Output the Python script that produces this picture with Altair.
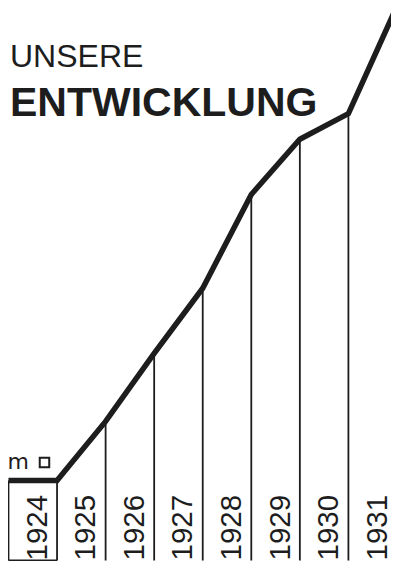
import altair as alt
import pandas as pd

# ---- data ----
years = [1924, 1925, 1926, 1927, 1928, 1929, 1930, 1931]
start_value = 81                      # level at the start of 1924
end_values = [81, 141, 210, 276, 371, 427, 453, 562]   # level at end of each year
title_top = "UNSERE"
title_main = "ENTWICKLUNG"
unit_m = "m"
year_labels = [str(y) for y in years]

INK = "#1d1d1d"

bounds = [years[0]] + [y + 1 for y in years]
vals = [start_value] + end_values
line_df = pd.DataFrame({"pos": bounds, "value": vals, "zero": [0] * len(bounds)})
label_df = pd.DataFrame({"mid": [y + 0.5 for y in years], "label": year_labels, "zero": [0] * len(years)})
base_df = pd.DataFrame({"x1": [years[0]], "x2": [years[0] + 1], "zero": [0]})
unit_df = pd.DataFrame({"pos": [years[0]], "value": [start_value], "t": [unit_m]})
title_df = pd.DataFrame({"a": [title_top], "b": [title_main]})

xs = alt.Scale(domain=[1923.990, 1931.877], nice=False, zero=False)
ys = alt.Scale(domain=[-0.5, 560], nice=False, zero=False)

line = alt.Chart(line_df).mark_line(
    color=INK, strokeWidth=5.5, clip=True, strokeCap="butt", strokeJoin="miter"
).encode(
    x=alt.X("pos:Q", scale=xs, axis=None),
    y=alt.Y("value:Q", scale=ys, axis=None),
)

verticals = alt.Chart(line_df).mark_rule(color=INK, strokeWidth=1.8, clip=True).encode(
    x=alt.X("pos:Q", scale=xs, axis=None),
    y=alt.Y("value:Q", scale=ys, axis=None),
    y2="zero:Q",
)

base = alt.Chart(base_df).mark_rule(color=INK, strokeWidth=1.8).encode(
    x=alt.X("x1:Q", scale=xs, axis=None),
    x2="x2:Q",
    y=alt.Y("zero:Q", scale=ys, axis=None),
)

labels = alt.Chart(label_df).mark_text(
    angle=270, align="left", baseline="middle", font="Liberation Sans",
    fontSize=29.5, color=INK, dx=0, dy=5,
).encode(
    x=alt.X("mid:Q", scale=xs, axis=None),
    y=alt.Y("zero:Q", scale=ys, axis=None),
    text="label:N",
)

unit_text = alt.Chart(unit_df).mark_text(
    align="left", baseline="alphabetic", font="DejaVu Sans", fontSize=22,
    color=INK, dx=-1, dy=-12,
).encode(
    x=alt.X("pos:Q", scale=xs, axis=None),
    y=alt.Y("value:Q", scale=ys, axis=None),
    text="t:N",
)

unit_square = alt.Chart(unit_df).mark_point(
    shape="square", filled=False, size=90, strokeWidth=2, color=INK, opacity=1,
    xOffset=36, yOffset=-18,
).encode(
    x=alt.X("pos:Q", scale=xs, axis=None),
    y=alt.Y("value:Q", scale=ys, axis=None),
)

t1 = alt.Chart(title_df).mark_text(
    align="left", baseline="alphabetic", font="Liberation Sans", fontSize=32,
    color=INK,
).encode(x=alt.value(2), y=alt.value(59), text="a:N")

t2 = alt.Chart(title_df).mark_text(
    align="left", baseline="alphabetic", font="Liberation Sans", fontSize=41,
    fontWeight="bold", color=INK,
).encode(x=alt.value(2), y=alt.value(107.5), text="b:N")

chart = alt.layer(verticals, base, line, labels, unit_text, unit_square, t1, t2).properties(
    width=383, height=553, autosize=alt.AutoSizeParams(type="none"), padding=0,
    background="white",
).configure_view(stroke=None)

chart.save("out.html", embed_options={"renderer": "svg", "actions": False})
